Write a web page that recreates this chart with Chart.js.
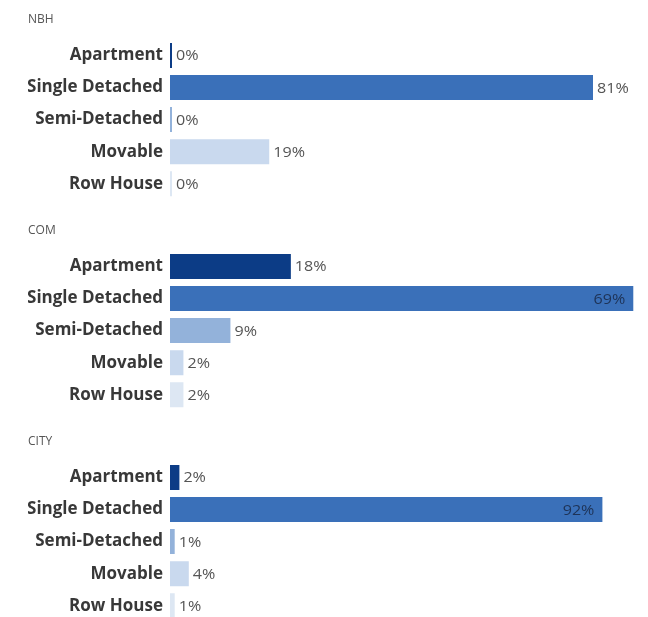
<!DOCTYPE html>
<html>
<head>
<meta charset="utf-8">
<script src="https://cdn.jsdelivr.net/npm/chart.js@4.4.0/dist/chart.umd.min.js"></script>
<style>
  html, body { margin: 0; padding: 0; background: #fff; overflow: hidden; }
  #wrap { position: relative; width: 648px; height: 617px; overflow: hidden; }
  .group { position: absolute; left: 0; width: 648px; height: 217px; }
</style>
</head>
<body>
<div id="wrap">
  <div class="group" style="top:0px"><canvas id="chartNBH"></canvas></div>
  <div class="group" style="top:211px"><canvas id="chartCOM"></canvas></div>
  <div class="group" style="top:422px"><canvas id="chartCITY"></canvas></div>
</div>
<script>
// Categories and values per area
const categories = ['Apartment', 'Single Detached', 'Semi-Detached', 'Movable', 'Row House'];
const groupNames = ['NBH', 'COM', 'CITY'];
const nbhValues = [0, 81, 0, 19, 0];
const comValues = [18, 69, 9, 2, 2];
const cityValues = [2, 92, 1, 4, 1];
const axisMax = [90, 70, 100];

const barColors = ['#0c3c86', '#3a70b9', '#93b2da', '#c9d9ee', '#dde7f3'];

// Draw the percent next to (or inside) each bar
const valueLabels = {
    id: 'valueLabels',
    afterDatasetsDraw(chart) {
        const ctx = chart.ctx;
        const meta = chart.getDatasetMeta(0);
        const values = chart.data.datasets[0].data;
        const right = chart.chartArea.right;
        ctx.save();
        ctx.font = '14px "Open Sans"';
        ctx.textBaseline = 'middle';
        meta.data.forEach((bar, i) => {
            const text = values[i] + '%';
            ctx.save();
            if (bar.x + 40 > right) {
                // no room on the right, put it inside the bar
                ctx.textAlign = 'right';
                ctx.fillStyle = '#1e3357';
                ctx.translate(bar.x - 8, bar.y + 1);
            } else {
                ctx.textAlign = 'left';
                ctx.fillStyle = '#555';
                ctx.translate(bar.x + 4, bar.y + 1);
            }
            ctx.scale(1.15, 1); // source text is a bit wide
            ctx.fillText(text, 0, 0);
            ctx.restore();
        });
        ctx.restore();
    }
};

function makeChart(id, title, values, max) {
    return new Chart(document.getElementById(id), {
        type: 'bar',
        data: {
            labels: categories,
            datasets: [{
                data: values,
                backgroundColor: barColors,
                categoryPercentage: 0.78,
                barPercentage: 1,
                minBarLength: 2
            }]
        },
        options: {
            indexAxis: 'y',
            responsive: true,
            maintainAspectRatio: false,
            animation: false,
            layout: { padding: { left: 28, right: 8, top: 0, bottom: 13 } },
            plugins: {
                legend: { display: false },
                tooltip: { enabled: false },
                title: {
                    display: true,
                    text: title,
                    align: 'start',
                    color: '#555',
                    font: { family: 'Open Sans', size: 12, weight: 'normal' },
                    padding: { top: 12, bottom: 13 }
                }
            },
            scales: {
                x: { display: false, min: 0, max: max },
                y: {
                    grid: { display: false, drawTicks: false },
                    border: { display: false },
                    ticks: {
                        color: '#383838',
                        padding: 7,
                        font: { family: 'Open Sans', size: 17, weight: 'bold' }
                    },
                    afterFit(scale) { scale.width = 142; }
                }
            }
        },
        plugins: [valueLabels]
    });
}

makeChart('chartNBH', groupNames[0], nbhValues, axisMax[0]);
makeChart('chartCOM', groupNames[1], comValues, axisMax[1]);
makeChart('chartCITY', groupNames[2], cityValues, axisMax[2]);
</script>
</body>
</html>
